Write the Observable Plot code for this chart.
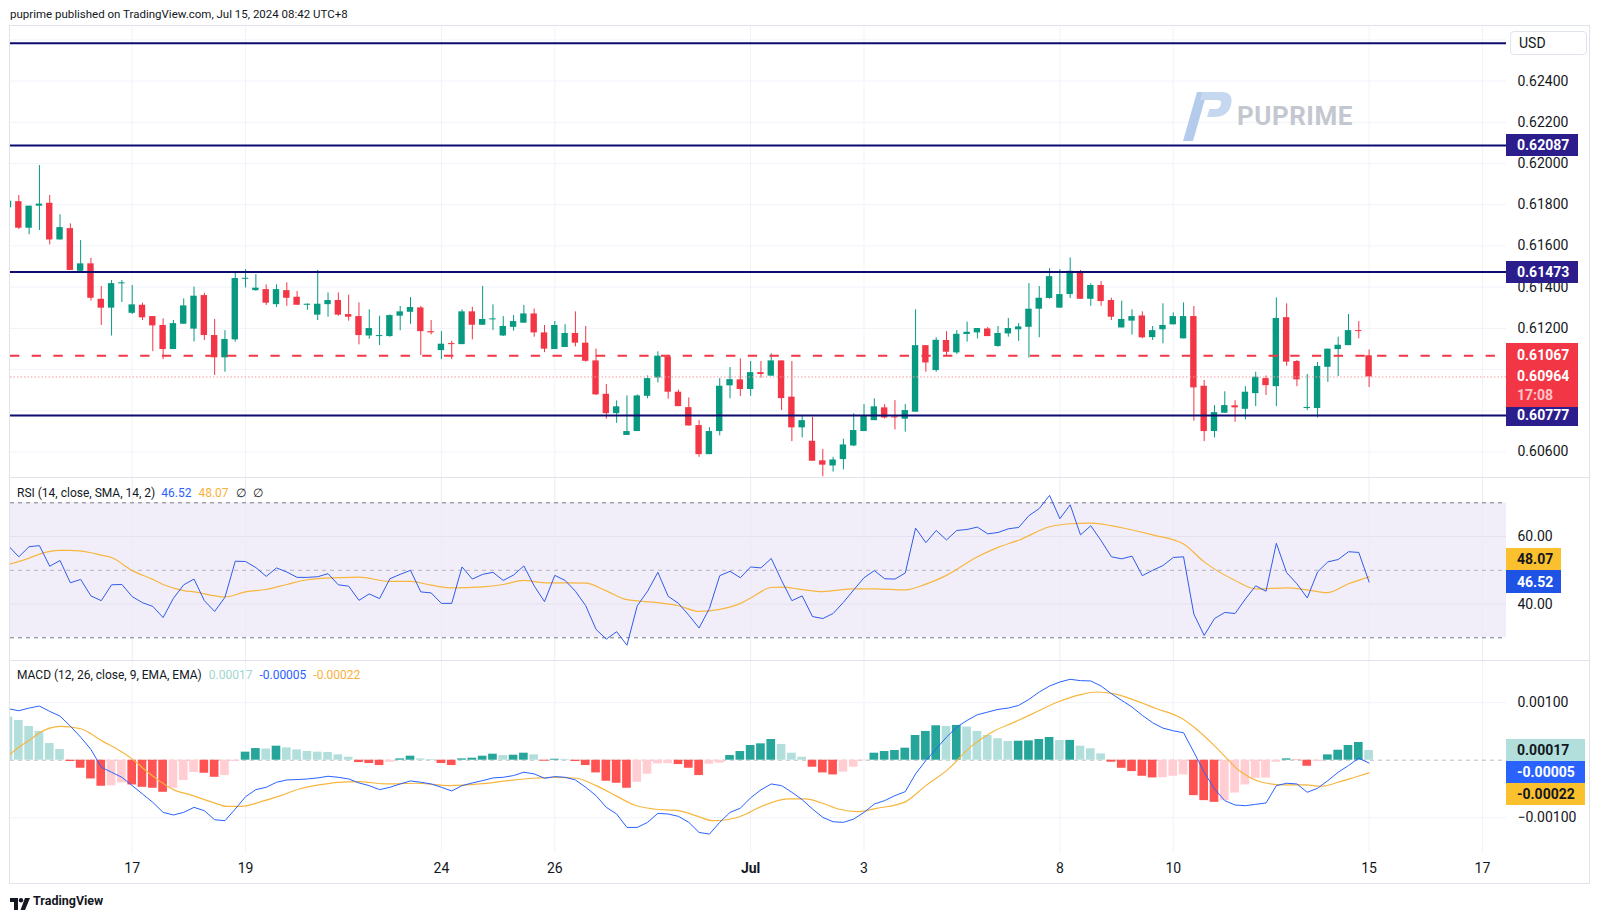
<!DOCTYPE html>
<html>
<head>
<meta charset="utf-8">
<script src="https://cdn.jsdelivr.net/npm/d3@7"></script>
<script src="https://cdn.jsdelivr.net/npm/@observablehq/plot@0.6"></script>
<style>
html,body{margin:0;padding:0;background:#fff;}
#root{position:relative;width:1600px;height:919px;overflow:hidden;font-family:Roboto,"Liberation Sans",Arial,sans-serif;color:#131722;}
.box{position:absolute;box-sizing:border-box;display:flex;align-items:center;padding-left:11px;font-size:14px;font-weight:bold;white-space:nowrap;}
</style>
</head>
<body>
<div id="root"></div>
<script>
// ---------- DATA (4H candles, index 0..132) ----------
const open = [0.61785,0.61815,0.61686,0.61793,0.61807,0.61629,0.61684,0.61477,0.61513,0.61341,
0.61298,0.61416,0.61273,0.61312,0.61257,0.61214,0.61097,0.61220,0.61196,0.61359,
0.61165,0.61057,0.61144,0.61438,0.61383,0.61388,0.61315,0.61383,0.61351,0.61312,
0.61264,0.61315,0.61335,0.61267,0.61257,0.61163,0.61160,0.61160,0.61259,0.61278,
0.61299,0.61184,0.61092,0.61125,0.61121,0.61280,0.61215,0.61241,0.61163,0.61205,
0.61225,0.61270,0.61178,0.61097,0.61107,0.61175,0.61128,0.61042,0.60880,0.60786,
0.60680,0.60699,0.60870,0.60959,0.61061,0.60890,0.60815,0.60728,0.60587,0.60699,
0.60921,0.60950,0.60903,0.60985,0.60968,0.61042,0.60866,0.60717,0.60652,0.60557,
0.60532,0.60563,0.60629,0.60699,0.60752,0.60814,0.60768,0.60759,0.60793,0.61116,
0.60995,0.61141,0.61081,0.61170,0.61178,0.61197,0.61112,0.61173,0.61193,0.61205,
0.61293,0.61345,0.61298,0.61364,0.61476,0.61341,0.61408,0.61335,0.61202,0.61235,
0.61260,0.61155,0.61193,0.61217,0.61149,0.61257,0.60919,0.60699,0.60788,0.60824,
0.60807,0.60883,0.60956,0.60917,0.61252,0.61039,0.60811,0.60811,0.61011,0.61097,
0.61116,0.61189,0.61067];
const high = [0.61817,0.61845,0.61793,0.61990,0.61845,0.61751,0.61707,0.61626,0.61540,0.61403,
0.61432,0.61432,0.61408,0.61322,0.61257,0.61246,0.61238,0.61343,0.61400,0.61370,
0.61243,0.61189,0.61476,0.61485,0.61461,0.61411,0.61411,0.61421,0.61379,0.61319,
0.61481,0.61372,0.61372,0.61361,0.61324,0.61290,0.61259,0.61265,0.61306,0.61349,
0.61306,0.61238,0.61184,0.61137,0.61290,0.61302,0.61403,0.61314,0.61257,0.61262,
0.61311,0.61294,0.61214,0.61233,0.61218,0.61280,0.61209,0.61100,0.60927,0.60848,
0.60872,0.60877,0.60969,0.61086,0.61068,0.60900,0.60862,0.60752,0.60718,0.60956,
0.61010,0.61052,0.61039,0.61039,0.61076,0.61042,0.61039,0.60773,0.60768,0.60612,
0.60574,0.60662,0.60785,0.60830,0.60858,0.60830,0.60849,0.60830,0.61290,0.61116,
0.61154,0.61184,0.61189,0.61230,0.61199,0.61204,0.61209,0.61248,0.61223,0.61417,
0.61403,0.61490,0.61485,0.61542,0.61481,0.61416,0.61427,0.61346,0.61332,0.61290,
0.61280,0.61209,0.61319,0.61275,0.61324,0.61306,0.60947,0.60825,0.60892,0.60849,
0.60917,0.60987,0.60969,0.61348,0.61319,0.61044,0.60976,0.61034,0.61099,0.61157,
0.61267,0.61233,0.61095];
const low = [0.61780,0.61680,0.61654,0.61675,0.61605,0.61629,0.61481,0.61477,0.61332,0.61214,
0.61163,0.61325,0.61267,0.61238,0.61087,0.61048,0.61097,0.61220,0.61134,0.61141,
0.60971,0.60987,0.61133,0.61396,0.61380,0.61311,0.61301,0.61307,0.61311,0.61288,
0.61238,0.61254,0.61259,0.61235,0.61120,0.61147,0.61116,0.61157,0.61188,0.61220,
0.61068,0.61168,0.61048,0.61048,0.61121,0.61144,0.61215,0.61189,0.61160,0.61186,
0.61225,0.61157,0.61082,0.61097,0.61107,0.61110,0.61036,0.60874,0.60759,0.60739,
0.60680,0.60699,0.60858,0.60935,0.60856,0.60820,0.60726,0.60574,0.60587,0.60678,
0.60858,0.60869,0.60870,0.60958,0.60968,0.60801,0.60650,0.60668,0.60555,0.60480,
0.60502,0.60513,0.60626,0.60699,0.60752,0.60760,0.60707,0.60696,0.60793,0.60987,
0.60987,0.61068,0.61073,0.61133,0.61149,0.61160,0.61108,0.61157,0.61137,0.61055,
0.61154,0.61341,0.61298,0.61345,0.61341,0.61307,0.61307,0.61238,0.61202,0.61167,
0.61149,0.61141,0.61125,0.61217,0.61149,0.60749,0.60650,0.60668,0.60788,0.60744,
0.60756,0.60820,0.60874,0.60820,0.61016,0.60917,0.60801,0.60765,0.60938,0.60966,
0.61116,0.61149,0.60913];
const close = [0.61817,0.61686,0.61793,0.61803,0.61629,0.61689,0.61481,0.61513,0.61346,0.61298,
0.61417,0.61421,0.61314,0.61251,0.61212,0.61097,0.61223,0.61309,0.61356,0.61165,
0.61057,0.61146,0.61442,0.61443,0.61395,0.61322,0.61388,0.61346,0.61312,0.61315,
0.61317,0.61335,0.61264,0.61254,0.61165,0.61199,0.61163,0.61262,0.61280,0.61301,
0.61184,0.61178,0.61123,0.61121,0.61280,0.61215,0.61243,0.61246,0.61209,0.61233,
0.61270,0.61178,0.61099,0.61214,0.61175,0.61128,0.61040,0.60877,0.60786,0.60819,
0.60699,0.60872,0.60956,0.61065,0.60890,0.60820,0.60726,0.60587,0.60699,0.60919,
0.60951,0.60903,0.60985,0.60976,0.61042,0.60859,0.60717,0.60752,0.60555,0.60536,
0.60561,0.60634,0.60704,0.60775,0.60819,0.60765,0.60765,0.60801,0.61116,0.61032,
0.61142,0.61084,0.61171,0.61181,0.61199,0.61160,0.61175,0.61199,0.61207,0.61293,
0.61346,0.61451,0.61364,0.61477,0.61341,0.61408,0.61330,0.61254,0.61243,0.61257,
0.61154,0.61189,0.61214,0.61257,0.61257,0.60911,0.60699,0.60791,0.60825,0.60814,
0.60890,0.60963,0.60922,0.61248,0.61036,0.60950,0.60815,0.61015,0.61099,0.61118,
0.61189,0.61184,0.60964];

// RSI(14) per candle
const rsi = [57.2,54,57,57.3,51.2,52.9,46.3,47.3,42.4,41,
45.7,45.8,42.2,40.4,39.3,36,41.7,45.7,47.4,41,
37.8,42,52.7,52.6,50.8,48.2,50.7,49.5,47.9,47.9,
48.1,49,45.7,45.3,41.1,43,41.6,47.5,48.8,50,
43.6,43.3,40.2,40.2,51,47.4,48.8,49.4,47,48.6,
51.3,45.4,40.7,48.5,47,43.8,39.5,32.5,29.6,31.8,
27.8,39.5,43.8,49.4,42.3,40.2,36.7,32.9,38.7,48.4,
49.7,47.8,51,50.7,53.5,47,41,42.4,36.3,35.7,
37.2,40.5,44.2,47.8,49.9,47.5,47.4,49.2,62.5,58.2,
61.8,59,61.8,62.1,62.8,60.8,61.2,62.3,62.7,66.2,
68.3,72.2,65.3,69.4,60.5,63.2,58.8,54,53.4,54.2,
48.4,50,51.4,53.8,54,37,30.7,35.7,37.5,37.2,
41.5,45.4,43.8,58,49.3,46,41.8,49.5,52.5,53.2,
55.5,55.3,46.52];
// RSI SMA(14), points: [candle index, value]
const rsiMA = [[0,51.7],[2,53.6],[3,54.8],[5,55.9],[6,55.9],[8,55.2],[9,54.5],[10,53.8],[12,49.9],[14,47.3],
[15,45.8],[17,44],[18,43.6],[21,42.1],[23,43.6],[25,44.3],[27,45.8],[29,47.2],[32,47.8],[34,48],
[37,46.7],[39,46.7],[41,45.6],[43,44.8],[46,45.1],[48,45.8],[50,47],[52,46.3],[56,46.2],[58,43.9],
[60,41.3],[63,40.4],[65,39.5],[67,37.8],[69,38.4],[71,40.2],[72,41.8],[74,44.9],[75,45],[77,44.3],
[79,43.7],[82,44.5],[84,44.5],[87,44.2],[89,45.9],[91,48.5],[94,54],[96,56.8],[98,58.9],[101,62.9],
[103,63.8],[105,64],[108,62.6],[111,60.5],[114,57.8],[116,52.5],[119,47],[121,44.5],[124,44.8],[126,44.2],
[128,43.4],[130,46],[132,48.07]];

// MACD(12,26,9) in units of 1e-5
const macdLine_e5 = [89.5,86,90.7,94.2,84.9,76.7,59.3,40.1,18.6,-12.2,
-20.9,-29.7,-44.2,-58.7,-73.3,-90.7,-95.3,-90.7,-82,-87.8,
-103.5,-105.2,-84.9,-63.4,-51.2,-47.1,-38.4,-34.3,-33.7,-32.6,
-30.8,-27.9,-29.7,-32.6,-39.5,-44.2,-51.2,-47.1,-41.3,-36,
-38.4,-41.3,-47.1,-53.5,-44.2,-39.5,-35.5,-30.8,-29.7,-26.7,
-20.9,-23.8,-31.4,-28.5,-29.7,-34.3,-47.1,-61.6,-82,-93.6,
-116.9,-116.9,-108.1,-92.4,-93.6,-97.7,-108.1,-125.6,-128.5,-108.1,
-90.7,-83.5,-65.4,-51.5,-41.3,-44.2,-55.8,-68.6,-84.9,-99.4,
-107,-108.1,-102.3,-90.7,-76.2,-70.3,-61.6,-54.7,-23.8,-0.6,
19.8,40.1,57.6,69.2,79.1,83.7,88.4,90.7,95.3,105.8,
118.6,129,136,140.7,138.4,137.8,129,115.7,104.1,92.4,
77.9,65.1,55.8,51.2,47.7,14,-20.9,-50,-70.3,-77.9,
-79.1,-76.7,-74.4,-44.2,-40.1,-41.3,-55.8,-48.8,-35.5,-20.9,
-9.3,3.5,-5];
const signal_e5 = [[0,8.1],[1,22.7],[2,34.3],[3,47.7],[4,55.8],[5,58.7],[7,54.7],[8,45.9],[9,34.3],[10.5,19.8],
[12,2.3],[13.2,-16.3],[14.6,-35.5],[16,-51.2],[17.9,-61.6],[19.8,-73.3],[21.2,-80.2],[22.6,-80.2],[24.5,-72.1],[26.4,-61.6],
[28.2,-50],[30.1,-43],[32,-38.4],[33.9,-37.2],[36.7,-41.3],[39.5,-40.1],[42.8,-44.2],[45.7,-41.3],[48.5,-35.5],[50.9,-31.4],
[53.2,-29.7],[55.1,-31.4],[57,-44.2],[58.9,-61.6],[60.7,-77.9],[62.6,-84.9],[65,-87.8],[66.9,-97.7],[68.3,-105.2],[69.7,-103.5],
[71.6,-93.6],[72.5,-84.9],[74.1,-73.3],[75.7,-67.4],[77.3,-67.4],[78.9,-74.4],[80.5,-84.9],[82.4,-89.5],[84.2,-83.7],[86.9,-73.3],
[89,-44.2],[91.2,-15.1],[93.3,22.7],[95.4,48.8],[97.6,66.3],[99.7,83.7],[101.8,101.2],[104,114],[105.6,118.6],[107.2,115.7],
[109.3,104.1],[111.4,89.5],[113.6,75],[115.2,54.7],[117.3,19.8],[119.4,-18],[121.6,-38.4],[123.7,-43],[125.8,-43],[127.4,-45.3],
[129,-38.4],[130.6,-29.7],[132,-22]];
const hist_e5 = [75,69.2,58.7,50,29.1,18.6,-2.3,-14,-32.6,-45.3,
-44.5,-39.5,-43,-47.1,-48.8,-55.8,-48.8,-35.5,-21.5,-22.7,
-29.7,-26.7,-2.3,14,20.3,19.5,24.4,21.5,18,15.1,
14,13.5,9.3,5.2,-4.1,-5.8,-9.3,-3.5,2.3,7,
2.3,1.2,-5.8,-9.3,2.3,3.5,7,10.5,8.1,8.7,
12.2,9.3,-1.7,1.7,1.5,-2.3,-9.3,-22.1,-36.6,-40.1,
-48.8,-38.4,-24.4,-6.4,-6,-7.6,-14,-26.7,-7,-5.2,
8.1,15.1,25.6,28.5,36,27.3,12.2,5.2,-12.2,-22.1,
-25.6,-20.9,-12.2,-1.2,12.2,15.1,16.9,20.9,43,50,
59.9,58.7,60.5,57.6,50,43,37.2,32.6,33,33.7,
36,39.5,34.3,34.5,24.4,19.8,11,-3.5,-14,-19.8,
-27.9,-30.8,-30.5,-27.9,-25.6,-61.6,-70.3,-73.3,-70.3,-57,
-43,-31.4,-31,-3.5,2.3,-0.6,-10.5,-2.3,9.3,17.4,
25.6,30.8,17];

// Levels and readouts
const levelLines = [0.62584, 0.62087, 0.61473, 0.60777];
const levelLabels = [0.62087, 0.61473, 0.60777];
const prevClose = 0.61067, lastClose = 0.60964, countdown = "17:08";
const priceGrid = [0.606,0.608,0.610,0.612,0.614,0.616,0.618,0.620,0.622,0.624,0.626];
const priceTickLabels = [0.606,0.612,0.614,0.616,0.618,0.620,0.622,0.624]; // the ones not hidden behind price tags
const rsiTicks = [40, 60], rsiBands = [30, 70], rsiMid = 50;
const rsiLast = 46.52, rsiMALast = 48.07;
const macdTicks = [-0.001, 0.001];
const histLast = 0.00017, macdLast = -0.00005, signalLast = -0.00022;
const dateTickIdx = [12,23,42,53,72,83,102,113,132,143];
const dateTickLabels = ["17","19","24","26","Jul","3","8","10","15","17"];

// ---------- BUILD ----------
const E5 = 1e-5;
const candles = open.map((o,i)=>({i, o, h: high[i], l: low[i], c: close[i]}));
const macd = macdLine_e5.map((v,i)=>({i, v: v*E5}));
const signal = signal_e5.map(([i,v])=>({i, v: v*E5}));
const hist = hist_e5.map((v,i)=>({i, v: v*E5}));
const dateTicks = dateTickIdx.map((x,i)=>({x, label: dateTickLabels[i]}));

const FONT = 'Roboto, "Liberation Sans", Arial, sans-serif';
const UP = "#089981", DOWN = "#F23645", NAVY = "#0D0B70", NAVYBOX = "#2B1D8C";
const GRID = "#F0F3FA";
const xDom = [0.194, 145.33];
const root = document.getElementById("root");
const common = {width: 1600, marginLeft: 10, marginRight: 94, marginTop: 0,
  x: {domain: xDom, axis: null}, color: {type: "identity"},
  style: {fontFamily: FONT, fontSize: "14px", color: "#131722", background: "transparent"}};
const candleColor = d => d.c >= d.o ? UP : DOWN;
const histColor = (d) => {
  const prev = d.i > 0 ? hist[d.i-1].v : d.v;
  return d.v >= 0 ? (prev < d.v ? "#26A69A" : "#B2DFDB") : (prev < d.v ? "#FFCDD2" : "#FF5252");
};

function place(svg, top){ svg.style.position="absolute"; svg.style.left="0px"; svg.style.top=top+"px"; root.appendChild(svg); }
function div(css, html){ const d=document.createElement("div"); d.style.cssText="position:absolute;"+css; if(html!=null) d.innerHTML=html; root.appendChild(d); return d; }

// Price pane
const price = Plot.plot({...common, height: 452, marginBottom: 0,
  y: {domain: [0.60476, 0.62670], axis: null},
  marks: [
    Plot.ruleY(priceGrid, {stroke: GRID}),
    Plot.ruleX(dateTickIdx, {stroke: GRID}),
    Plot.ruleX(candles, {x: "i", y1: "l", y2: "h", stroke: candleColor, strokeWidth: 1, clip: true}),
    Plot.rect(candles, {x1: d=>d.i-0.31, x2: d=>d.i+0.31,
      y1: d=>Math.min(d.o,d.c), y2: d=>Math.max(d.o,d.c,Math.min(d.o,d.c)+0.00005), fill: candleColor, clip: true}),
    Plot.ruleY([lastClose], {stroke: "#F59AA2", strokeDasharray: "1.5,2"}),
    Plot.ruleY([prevClose], {stroke: DOWN, strokeWidth: 2, strokeDasharray: "9.3,12.4"}),
    Plot.ruleY(levelLines, {stroke: NAVY, strokeWidth: 2}),
    Plot.axisY({anchor: "right", label: null, ticks: priceTickLabels, tickFormat: d3.format(".5f"), tickSize: 0, tickPadding: 11, fontSize: 14})
  ]});
place(price, 25);

// RSI pane
const rsiPlot = Plot.plot({...common, height: 183, marginBottom: 0,
  y: {domain: [23.27, 77.5], axis: null},
  marks: [
    Plot.rect([rsiBands], {x1: ()=>xDom[0], x2: ()=>xDom[1], y1: d=>d[0], y2: d=>d[1], fill: "#7E57C2", fillOpacity: 0.1}),
    Plot.ruleY(rsiTicks, {stroke: "#E4E0F0"}),
    Plot.ruleX(dateTickIdx, {stroke: "#ECEAF4"}),
    Plot.ruleY(rsiBands, {stroke: "#787B86", strokeDasharray: "4,4"}),
    Plot.ruleY([rsiMid], {stroke: "#787B86", strokeOpacity: 0.5, strokeDasharray: "4,4"}),
    Plot.line(rsiMA, {x: d=>d[0], y: d=>d[1], stroke: "#F7B63F", strokeWidth: 1.2, curve: "monotone-x", clip: true}),
    Plot.lineY(rsi, {x: (d,i)=>i, y: d=>d, stroke: "#2F5BEA", strokeWidth: 1, clip: true}),
    Plot.axisY({anchor: "right", label: null, ticks: rsiTicks, tickFormat: d3.format(".2f"), tickSize: 0, tickPadding: 11, fontSize: 14})
  ]});
place(rsiPlot, 477);

// MACD pane + time axis
const macdPlot = Plot.plot({...common, height: 222, marginBottom: 30,
  y: {domain: [-0.001605, 0.001734], axis: null, label: null},
  marks: [
    Plot.ruleY(macdTicks, {stroke: GRID}),
    Plot.ruleX(dateTickIdx, {stroke: GRID}),
    Plot.ruleY([0], {stroke: "#787B86", strokeOpacity: 0.5, strokeDasharray: "4,4"}),
    Plot.rect(hist, {x1: d=>d.i-0.42, x2: d=>d.i+0.42, y1: 0, y2: d=>d.v, fill: histColor, clip: true}),
    Plot.line(signal, {x: d=>d.i, y: d=>d.v, stroke: "#F7B63F", strokeWidth: 1.2, curve: "monotone-x", clip: true}),
    Plot.line(macd, {x: d=>d.i, y: d=>d.v, stroke: "#2962FF", strokeWidth: 1, clip: true}),
    Plot.axisY({anchor: "right", label: null, ticks: macdTicks, tickFormat: d3.format(".5f"), tickSize: 0, tickPadding: 11, fontSize: 14}),
    Plot.text(dateTicks.filter(d=>d.label!=="Jul"), {x: "x", text: "label", frameAnchor: "bottom", dy: 20, fontSize: 14, fill: "#131722"}),
    Plot.text(dateTicks.filter(d=>d.label==="Jul"), {x: "x", text: "label", frameAnchor: "bottom", dy: 20, fontSize: 14, fontWeight: "bold", fill: "#131722"})
  ]});
place(macdPlot, 660);

// ---------- Frame and overlays ----------
div("left:0;top:5px;font-size:11.5px;color:#131722;padding-left:10px;line-height:18px;", "puprime published on TradingView.com, Jul 15, 2024 08:42 UTC+8");
div("left:9px;top:25px;width:1581px;height:859px;border:1px solid #E0E3EB;box-sizing:border-box;pointer-events:none;");
div("left:10px;top:477px;width:1579px;height:1px;background:#E0E3EB;");
div("left:10px;top:660px;width:1579px;height:1px;background:#E0E3EB;");

// USD box
div("left:1510px;top:31px;width:77px;height:24px;box-sizing:border-box;border:1px solid #E0E3EB;border-radius:4px;background:#fff;font-size:14px;line-height:22px;padding-left:8px;", "USD");

const py = v => 25 + price.scale("y").apply(v);
const ry = v => 477 + rsiPlot.scale("y").apply(v);
const my = v => 660 + macdPlot.scale("y").apply(v);
const f5 = d3.format(".5f"), f2 = d3.format(".2f");
const fm = v => (v<0?"-":"") + f5(Math.abs(v));

for (const v of levelLabels) {
  const b = div(`left:1506px;top:${py(v)-11}px;width:72px;height:22px;background:${NAVYBOX};color:#fff;`, f5(v));
  b.className = "box";
}
// current price block
const red = div(`left:1506px;top:${py(prevClose)-12}px;width:72px;height:64px;background:#F23645;color:#fff;box-sizing:border-box;font-weight:bold;font-size:14px;`);
red.innerHTML = `<div style="position:absolute;left:11px;top:2px;line-height:20px">${f5(prevClose)}</div>
<div style="position:absolute;left:11px;top:${py(lastClose)-py(prevClose)+2}px;line-height:20px">${f5(lastClose)}</div>
<div style="position:absolute;left:11px;top:42px;line-height:20px;color:#FFC3C8">${countdown}</div>`;

// RSI readouts
const rb = ry(rsiLast);
const b1 = div(`left:1506px;top:${rb-11.5}px;width:55px;height:23px;background:#1E53E5;color:#fff;`, f2(rsiLast)); b1.className="box";
const b2 = div(`left:1506px;top:${rb-11.5-22}px;width:55px;height:22px;background:#FBC02D;color:#131722;`, f2(rsiMALast)); b2.className="box";
// MACD readouts
const mt = my(histLast) - 11;
const m1 = div(`left:1506px;top:${mt}px;width:79px;height:22px;background:#B2DFDB;color:#131722;`, fm(histLast)); m1.className="box";
const m2 = div(`left:1506px;top:${mt+22}px;width:79px;height:22px;background:#2962FF;color:#fff;`, fm(macdLast)); m2.className="box";
const m3 = div(`left:1506px;top:${mt+44}px;width:79px;height:22px;background:#FBC02D;color:#131722;`, fm(signalLast)); m3.className="box";

// indicator titles
div("left:17px;top:485px;font-size:12px;line-height:16px;color:#131722;white-space:nowrap;",
  `RSI (14, close, SMA, 14, 2)<span style="color:#2962FF;margin-left:6px">${f2(rsiLast)}</span><span style="color:#F7B13B;margin-left:7px">${f2(rsiMALast)}</span><span style="margin-left:7px">∅</span><span style="margin-left:7px">∅</span>`);
div("left:17px;top:667px;font-size:12px;line-height:16px;color:#131722;white-space:nowrap;",
  `MACD (12, 26, close, 9, EMA, EMA)<span style="color:#9FD6CF;margin-left:7px">${fm(histLast)}</span><span style="color:#2962FF;margin-left:7px">${fm(macdLast)}</span><span style="color:#F7B13B;margin-left:7px">${fm(signalLast)}</span>`);

// watermark
div("left:1181px;top:89px;width:54px;height:54px;", `<svg width="54" height="54" viewBox="0 0 54 54">
<path d="M2 52 L12 52 L26 3 L16 3 Z" fill="#B4CBEB"/>
<path d="M21 3 L40 3 Q53 3 50 16 Q47 28 33 28 L26 28 L28.5 20 L34 20 Q39 20 40 15 Q41 11 36 11 L19 11 Z" fill="#C6D7F0"/>
</svg>`);
div("left:1237px;top:100px;font-size:26px;font-weight:bold;color:#C3C7D0;line-height:32px;letter-spacing:0.5px;", "PUPRIME");

// TradingView footer
div("left:10px;top:895px;width:22px;height:12px;", `<svg width="22" height="12" viewBox="0 0 22 12"><path d="M0 0H8V12H4V4H0Z" fill="#131722"/><circle cx="11" cy="2.2" r="2.2" fill="#131722"/><path d="M15 0H20L15 12H10.5Z" fill="#131722"/></svg>`);
div("left:33px;top:893px;font-size:12.5px;font-weight:bold;color:#131722;line-height:16px;", "TradingView");
</script>
</body>
</html>
